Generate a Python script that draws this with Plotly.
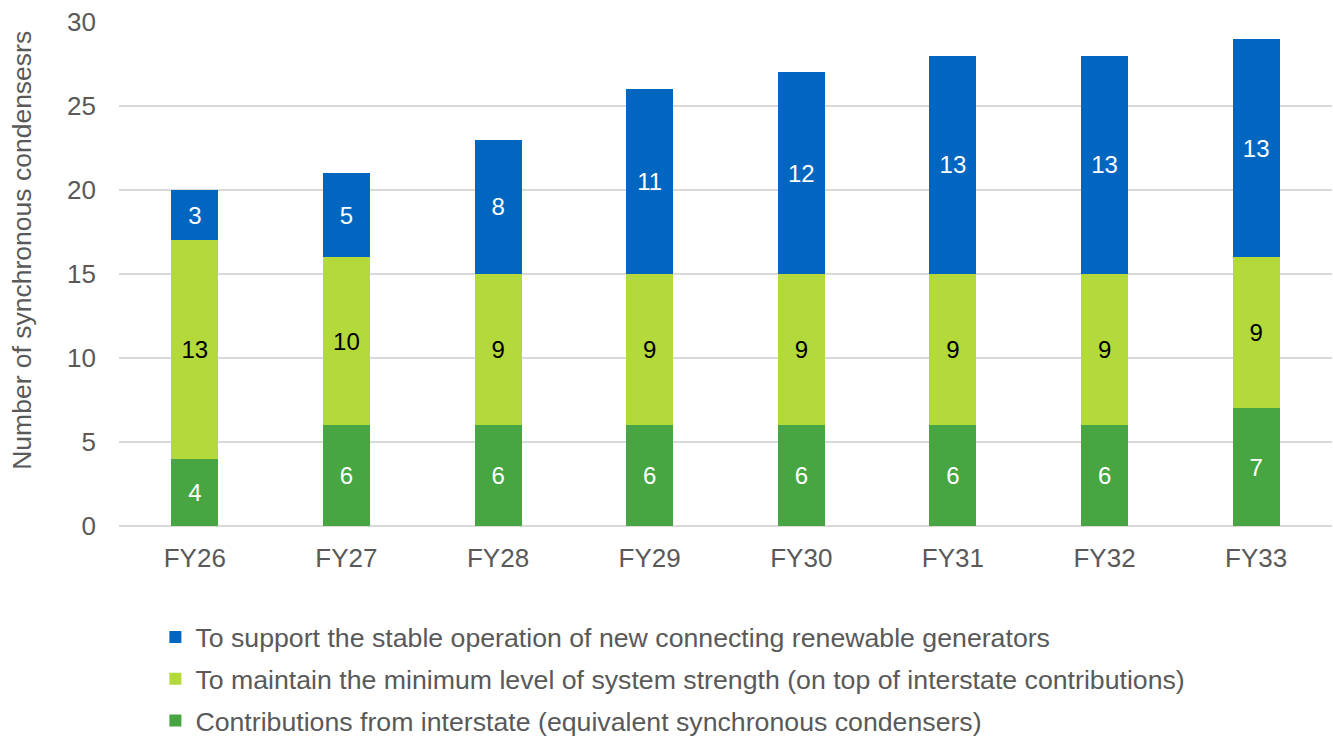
import plotly.graph_objects as go

years = ["FY26", "FY27", "FY28", "FY29", "FY30", "FY31", "FY32", "FY33"]
interstate = [4, 6, 6, 6, 6, 6, 6, 7]
min_strength = [13, 10, 9, 9, 9, 9, 9, 9]
renewables = [3, 5, 8, 11, 12, 13, 13, 13]

series = [
    ("Contributions from interstate (equivalent synchronous condensers)", interstate, "#47A642", "white"),
    ("To maintain the minimum level of system strength (on top of interstate contributions)", min_strength, "#B3D93A", "black"),
    ("To support the stable operation of new connecting renewable generators", renewables, "#0066C0", "white"),
]

FONT = "Liberation Sans, Arial, sans-serif"
GREY = "#595959"

fig = go.Figure()
for i, (name, vals, color, tcolor) in enumerate(series):
    fig.add_trace(go.Bar(
        x=years, y=vals, name=name,
        marker=dict(color=color, line=dict(width=0)),
        text=[str(v) for v in vals],
        textposition="inside",
        insidetextanchor="middle",
        textangle=0,
        textfont=dict(family=FONT, size=24, color=tcolor),
        legendgroup=f"g{i}",
        legendrank=1000 - i,  # top-of-stack series listed first
        hoverinfo="skip",
    ))

# vertical axis title, placed as a rotated annotation
fig.add_annotation(
    text="Number of synchronous condensesrs",
    xref="paper", yref="paper",
    x=-0.08, y=0.548,
    xanchor="center", yanchor="middle",
    textangle=-90,
    showarrow=False,
    font=dict(family=FONT, size=26.5, color=GREY),
)

fig.update_layout(
    barmode="stack",
    bargap=0.69,
    width=1333, height=754,
    margin=dict(l=119, r=1, t=22, b=228),
    plot_bgcolor="white",
    paper_bgcolor="white",
    font=dict(family=FONT, size=26, color=GREY),
    uniformtext=dict(mode=False),
    legend=dict(
        orientation="v",
        traceorder="grouped",
        x=0.03, xanchor="left",
        y=-0.173, yanchor="top",
        font=dict(family=FONT, size=26.7, color=GREY),
        tracegroupgap=4,
        itemwidth=30,
    ),
    xaxis=dict(
        showgrid=False,
        showline=False,
        ticks="",
        ticklabelstandoff=14,
        tickfont=dict(family=FONT, size=26, color=GREY),
    ),
    yaxis=dict(
        range=[0, 30],
        dtick=5,
        showgrid=True,
        gridcolor="#D9D9D9",
        gridwidth=1.5,
        zeroline=True,
        zerolinecolor="#D9D9D9",
        zerolinewidth=1.5,
        showline=False,
        ticks="",
        ticklabelstandoff=22,
        tickfont=dict(family=FONT, size=26, color=GREY),
    ),
)

fig.write_html("out.html")
